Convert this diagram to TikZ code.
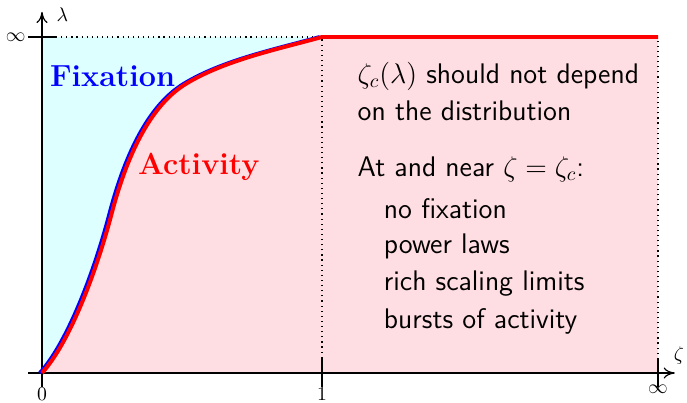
\documentclass[tikz,border=0pt]{standalone}
\usepackage{amsmath,amssymb}
\usepackage{xcolor}
\usepackage{tikz}
\usetikzlibrary{arrows.meta,positioning}
\definecolor{fixbg}{HTML}{DDFFFF}
\definecolor{actbg}{HTML}{FFDEE3}
\definecolor{fixblue}{HTML}{0000FF}
\definecolor{actred}{HTML}{FF0000}
\tikzset{
  ax/.style={-{To[length=2mm,width=2mm]},semithick},
  tk/.style={semithick},
  guide/.style={dotted,semithick},
  crit/.style={line width=2pt,line join=round},
  region/.style={font=\fontsize{15.5}{18}\selectfont\bfseries},
  note/.style={font=\Large\sffamily,anchor=west,inner sep=0pt}
}

\begin{document}
\begin{tikzpicture}
\useasboundingbox (-0.75,-0.518) rectangle (11.518,6.661);
% regions
\fill[fixbg] (0,6) -- (0,0) .. controls (0.5,0.55) and (0.975,1.82) .. (1.245,2.85)
  .. controls (1.545,3.99) and (1.98,4.81) .. (2.58,5.17)
  .. controls (3.28,5.59) and (4.2,5.78) .. (5,6) -- cycle;
\fill[actbg] (0,0) .. controls (0.5,0.55) and (0.975,1.82) .. (1.245,2.85)
  .. controls (1.545,3.99) and (1.98,4.81) .. (2.58,5.17)
  .. controls (3.28,5.59) and (4.2,5.78) .. (5,6) -- (11,6) -- (11,0) -- cycle;
% guides
\draw[guide] (0.25,6) -- (5,6);
\draw[guide] (5,0.27) -- (5,6);
\draw[guide] (11,0.25) -- (11,6);
% axes
\coordinate (o) at (0,0);
\coordinate (xend) at (11.3,0);
\coordinate (yend) at (0,6.45);
\draw[ax] (-0.25,0) -- (xend);
\draw[ax] (0,-0.25) -- (yend);
\node[right=1pt] (lam) at (0.1,6.4) {$\lambda$};
\node[above right=1pt and -4pt] (zet) at (xend) {$\zeta$};
% ticks
\draw[tk] (5,-0.25) -- (5,0.27);
\draw[tk] (11,-0.25) -- (11,0.25);
\draw[tk] (-0.25,6) -- (0.25,6);
\node[below,inner sep=0pt] (t0) at (0,-0.26) {$0$};
\node[below,inner sep=0pt] (t1) at (5,-0.26) {$1$};
\node[below,inner sep=0pt] (tinf) at (11,-0.2) {$\infty$};
\node[left,inner sep=1pt] (linf) at (-0.25,6) {$\infty$};
% critical curve
\draw[crit,fixblue,xshift=-1.1pt] (0,0) .. controls (0.5,0.55) and (0.975,1.82) .. (1.245,2.85)
  .. controls (1.545,3.99) and (1.98,4.81) .. (2.58,5.17)
  .. controls (3.28,5.59) and (4.2,5.78) .. (5,6);
\draw[crit,actred] (0,0) .. controls (0.5,0.55) and (0.975,1.82) .. (1.245,2.85)
  .. controls (1.545,3.99) and (1.98,4.81) .. (2.58,5.17)
  .. controls (3.28,5.59) and (4.2,5.78) .. (5,6) -- (11,6);
% labels
\node[region,text=fixblue] (fix) at (1.26,5.3) {Fixation};
\node[region,text=actred] (act) at (2.80,3.68) {Activity};
\node[note] (n1) at (5.63,5.3) {$\zeta_c(\lambda)$ should not depend};
\node[note] (n2) at (5.63,4.68) {on the distribution};
\node[note] (n3) at (5.63,3.64) {At and near $\zeta=\zeta_c$:};
\foreach \t [count=\i] in {no fixation,power laws,rich scaling limits,bursts of activity}
  \node[note] (item\i) at (6.1,{2.93-0.667*(\i-1)}) {\t};
\end{tikzpicture}
\end{document}
